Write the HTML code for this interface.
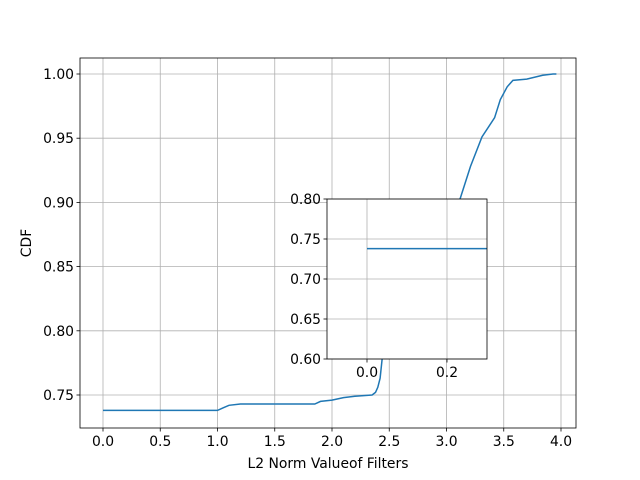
<!DOCTYPE html>
<html><head><meta charset="utf-8"><style>body{margin:0;background:#fff}svg{display:block;font-family:"DejaVu Sans","Liberation Sans",sans-serif}</style></head>
<body>
<svg id="chart" width="640" height="480" viewBox="0 0 640 480"></svg>
<script>
const xs = [0,1.0,1.05,1.1,1.2,1.5,1.85,1.9,2.0,2.1,2.2,2.35,2.38,2.4,2.42,2.44,2.46,2.5,3.12,3.21,3.31,3.42,3.47,3.53,3.58,3.70,3.84,3.93,3.96];
const ys = [0.738,0.738,0.740,0.742,0.743,0.743,0.743,0.745,0.746,0.748,0.749,0.750,0.752,0.756,0.763,0.78,0.80,0.83,0.903,0.928,0.951,0.966,0.980,0.990,0.995,0.996,0.999,1.0,1.0];
const xTicks = [0,0.5,1.0,1.5,2.0,2.5,3.0,3.5,4.0];
const yTicks = [0.75,0.80,0.85,0.90,0.95,1.00];
const insetXTicks = [0.0,0.2];
const insetYTicks = [0.60,0.65,0.70,0.75,0.80];

const svg = document.getElementById('chart');
const NS='http://www.w3.org/2000/svg';
function mk(t,a,p){const e=document.createElementNS(NS,t);for(const k in a)e.setAttribute(k,a[k]);(p||svg).appendChild(e);return e;}
const X=v=>103+v*114.5, Y=v=>74+(1-v)*1284;
const L=80,R=576,T=58,B=428;
const FS=13.9;
let g;
for(const t of xTicks){g=mk('line',{x1:X(t),x2:X(t),y1:T,y2:B,stroke:'#b0b0b0','stroke-width':0.8});

}
for(const t of yTicks){g=mk('line',{x1:L,x2:R,y1:Y(t),y2:Y(t),stroke:'#b0b0b0','stroke-width':0.8});

}
let d=xs.map((x,i)=>(i?'L':'M')+X(x).toFixed(1)+','+Y(ys[i]).toFixed(1)).join('');
g=mk('path',{d:d,fill:'none',stroke:'#1f77b4','stroke-width':1.5});


g=mk('rect',{x:L,y:T,width:R-L,height:B-T,fill:'none',stroke:'#000','stroke-width':0.8});


for(const t of xTicks){mk('line',{x1:X(t),x2:X(t),y1:B,y2:B+3.5,stroke:'#000','stroke-width':0.8});
g=mk('text',{x:X(t),y:B+18,'text-anchor':'middle','font-size':FS});g.textContent=t.toFixed(1);

}
for(const t of yTicks){mk('line',{x1:L-3.5,x2:L,y1:Y(t),y2:Y(t),stroke:'#000','stroke-width':0.8});
g=mk('text',{x:L-6,y:Y(t)+5,'text-anchor':'end','font-size':FS});g.textContent=t.toFixed(2);

}
g=mk('text',{x:328,y:468,'text-anchor':'middle','font-size':FS});g.textContent='L2 Norm Valueof Filters';


g=mk('text',{x:31,y:243,'text-anchor':'middle','font-size':FS,transform:'rotate(-90 31 243)'});g.textContent='CDF';


const IL=327,IR=487,IT=199,IB=359;
const IX=v=>367+v*400, IY=v=>IT+(0.80-v)*800;
g=mk('rect',{x:IL,y:IT,width:IR-IL,height:IB-IT,fill:'#fff'});


for(const t of insetXTicks){mk('line',{x1:IX(t),x2:IX(t),y1:IT,y2:IB,stroke:'#b0b0b0','stroke-width':0.8});
mk('line',{x1:IX(t),x2:IX(t),y1:IB,y2:IB+3.5,stroke:'#000','stroke-width':0.8});
g=mk('text',{x:IX(t),y:IB+18,'text-anchor':'middle','font-size':FS});g.textContent=t.toFixed(1);

}
for(const t of insetYTicks){mk('line',{x1:IL,x2:IR,y1:IY(t),y2:IY(t),stroke:'#b0b0b0','stroke-width':0.8});
mk('line',{x1:IL-3.5,x2:IL,y1:IY(t),y2:IY(t),stroke:'#000','stroke-width':0.8});
g=mk('text',{x:IL-6,y:IY(t)+5,'text-anchor':'end','font-size':FS});g.textContent=t.toFixed(2);

}
g=mk('line',{x1:IX(xs[0]),x2:IR,y1:IY(ys[0]),y2:IY(ys[0]),stroke:'#1f77b4','stroke-width':1.5});


g=mk('rect',{x:IL,y:IT,width:IR-IL,height:IB-IT,fill:'none',stroke:'#000','stroke-width':0.8});


</script>
</body></html>
